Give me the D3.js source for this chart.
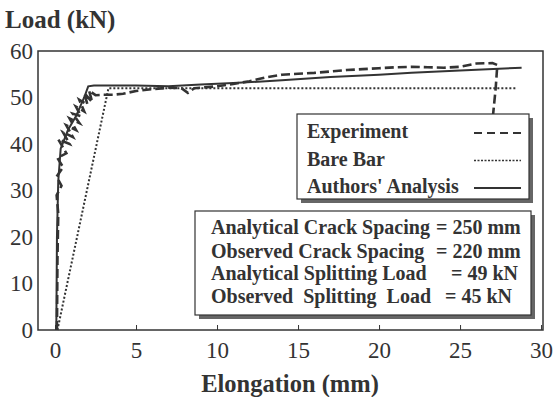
<!DOCTYPE html>
<html><head><meta charset="utf-8">
<script src="https://cdn.jsdelivr.net/npm/d3@7"></script>
<style>body{margin:0;background:#fff}svg{display:block}text{font-family:"Liberation Serif","Times New Roman",serif;fill:#333}</style>
</head><body><svg id="c" width="556" height="397"></svg>
<script>
const xTicks=[0,5,10,15,20,25,30];
const yTicks=[0,10,20,30,40,50,60];
const experiment=[[0.12,0],[0.15,15],[0.2,25],[0.1,29],[0.4,31],[0.1,33],[0.5,35],[0.15,37],[0.7,38],[0.2,41],[0.9,40],[0.5,42.5],[1.1,41.5],[0.7,44],[1.3,43],[0.9,45.5],[1.5,44.5],[1.1,46.5],[1.6,46],[1.3,48],[1.8,47],[1.5,49.5],[2.0,48.5],[1.8,51],[2.3,49],[2.1,51.5],[2.5,50.5],[3.0,50.6],[3.6,50.6],[4.2,50.8],[5,51.4],[6,51.8],[7,52.1],[7.8,52],[8.2,51],[8.6,52],[10,52.4],[11,52.9],[12,53.5],[13,54.3],[14,54.9],[15,55.1],[16,55.3],[17,55.6],[18,55.9],[19,56.1],[20,56.3],[21,56.5],[22,56.6],[23,56.5],[24,56.4],[25,56.6],[26,57.3],[27,57.4],[27.3,57],[27.2,52],[27.0,45],[26.9,38]];
const bareBar=[[0.15,0],[3.3,52],[28.5,52]];
const analysis=[[0.08,0],[0.12,20],[0.2,32],[0.35,39],[0.8,43],[1.3,46],[1.8,50],[2.05,52.4],[2.4,52.6],[5,52.6],[7,52.4],[9,52.8],[11,53.1],[14,53.7],[17,54.4],[20,54.9],[22,55.3],[25,55.8],[28.8,56.4]];
const legendItems=["Experiment","Bare Bar","Authors' Analysis"];
const infoLabels=["Analytical Crack Spacing","Observed Crack Spacing","Analytical Splitting Load","Observed  Splitting  Load"];
const infoValues=["= 250 mm","= 220 mm","= 49 kN","= 45 kN"];

const svg=d3.select("#c");
const L=38,R=543,T=51,B=330;
const x=d3.scaleLinear().domain([-1.05,30.12]).range([L,R]);
const y=d3.scaleLinear().domain([0,60]).range([B,T]);
const ink="#333";

svg.append("rect").attr("x",L).attr("y",T).attr("width",R-L).attr("height",B-T).attr("fill","none").attr("stroke",ink).attr("stroke-width",1.5);

const xa=svg.append("g").attr("transform",`translate(0,${B})`).call(d3.axisBottom(x).tickValues(xTicks).tickSizeInner(-5).tickSizeOuter(0).tickPadding(12));
xa.select(".domain").remove();
xa.selectAll("line").attr("stroke",ink);
xa.selectAll("text").attr("font-size",23).attr("fill",ink).attr("font-family","Liberation Serif");
const ya=svg.append("g").attr("transform",`translate(${L},0)`).call(d3.axisLeft(y).tickValues(yTicks).tickSize(0).tickPadding(5));
ya.select(".domain").remove();
ya.selectAll("text").attr("font-size",23).attr("fill",ink).attr("font-family","Liberation Serif");

svg.append("text").attr("x",5).attr("y",28).attr("font-size",25).attr("font-weight","bold").text("Load (kN)");
svg.append("text").attr("x",290).attr("y",392).attr("text-anchor","middle").attr("font-size",24.5).attr("font-weight","bold").text("Elongation (mm)");

const line=d3.line().x(d=>x(d[0])).y(d=>y(d[1]));
svg.append("path").datum(bareBar).attr("d",line).attr("fill","none").attr("stroke",ink).attr("stroke-width",2).attr("stroke-dasharray","2,2");
svg.append("path").datum(analysis).attr("d",line).attr("fill","none").attr("stroke",ink).attr("stroke-width",2);
svg.append("path").datum(experiment).attr("d",line).attr("fill","none").attr("stroke",ink).attr("stroke-width",2.6).attr("stroke-dasharray","9,4");

function box(x0,y0,w,h){
  svg.append("rect").attr("x",x0+4).attr("y",y0+4).attr("width",w).attr("height",h).attr("fill","#666");
  svg.append("rect").attr("x",x0).attr("y",y0).attr("width",w).attr("height",h).attr("fill","#fff").attr("stroke",ink).attr("stroke-width",1.2);
}
box(297,114,232,85);
const dashes=["8,5","2,1.5",null];
legendItems.forEach((t,i)=>{
  const yy=138+i*27.5;
  svg.append("text").attr("x",307).attr("y",yy).attr("font-size",20).attr("font-weight","bold").text(t);
  const ln=svg.append("line").attr("x1",474).attr("x2",521).attr("y1",yy-5).attr("y2",yy-5).attr("stroke",ink).attr("stroke-width",i===1?1.5:2);
  if(dashes[i]) ln.attr("stroke-dasharray",dashes[i]);
});
box(195,211,336,104);
const rowY=[234,258,280,303];
const valX=[436,436,451,445];
infoLabels.forEach((t,i)=>{
  svg.append("text").attr("x",211).attr("y",rowY[i]).attr("font-size",20).attr("font-weight","bold").style("white-space","pre").text(t);
  svg.append("text").attr("x",valX[i]).attr("y",rowY[i]).attr("font-size",20).attr("font-weight","bold").text(infoValues[i]);
});
</script></body></html>
